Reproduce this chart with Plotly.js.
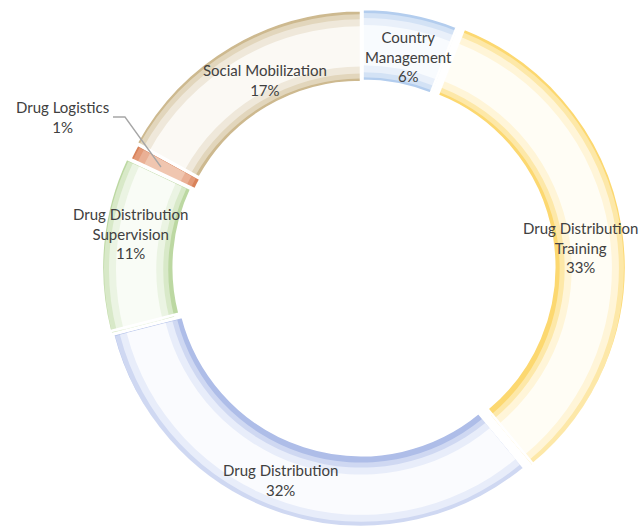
<!DOCTYPE html>
<html>
<head>
<meta charset="utf-8">
<script src="https://cdn.plot.ly/plotly-3.0.1.min.js"></script>
<style>html,body{margin:0;padding:0;background:#fff;}#chart{width:642px;height:532px;}</style>
</head>
<body>
<div id="chart"></div>
<script>
const categories = ["Country Management", "Drug Distribution Training", "Drug Distribution", "Drug Distribution Supervision", "Drug Logistics", "Social Mobilization"];
const labelLines = ["Country<br>Management", "Drug Distribution<br>Training", "Drug Distribution", "Drug Distribution<br>Supervision", "Drug Logistics", "Social Mobilization"];
const values = [6, 33, 32, 11, 1, 17];
const edgeColors = ["#b3cdee", "#fcd870", "#aebde8", "#bcd8a2", "#d9825a", "#cdb98f"];
const midColors  = ["#d3e2f5", "#fde8a8", "#cfd8f2", "#d8e9c8", "#e39a78", "#e2d6bc"];
const lightColors= ["#e9f0fa", "#fff5d8", "#e8edfa", "#ebf4e3", "#eab095", "#efe8da"];
const coreColors = ["#f8fbfe", "#fffdf5", "#fafbfe", "#f9fcf6", "#f0c6b0", "#fbf9f4"];
// slice explosion (pixels) -- style
const pullPx = [3, 8, 3, 4, 0, 2];

// label anchor positions (pixels from top-left) -- layout only
const labelPos = [[408, 56], [580, 247], [280, 480], [130, 233], [62, 117], [265, 80]];

const W = 642, H = 532, cx = 362, cy = 270, R = 258, HOLE = 0.72;
const rIn = R * HOLE;
const layers = [
  {inset: 0, colors: edgeColors},
  {inset: 4, colors: midColors},
  {inset: 9, colors: lightColors},
  {inset: 16, colors: coreColors}
];
function pieTrace(inset, colors, lineW) {
  const ro = R - inset, ri = rIn + inset;
  const pulls = pullPx.map(p => p / ro);
  const maxPull = Math.max(...pulls);
  const rd = ro * (1 + maxPull);
  return {
    type: "pie",
    labels: categories,
    values: values,
    sort: false,
    direction: "clockwise",
    rotation: 0,
    hole: ri / ro,
    pull: pulls,
    domain: {x: [(cx - rd) / W, (cx + rd) / W], y: [(H - cy - rd) / H, (H - cy + rd) / H]},
    marker: {colors: colors, line: {color: "#ffffff", width: lineW}},
    textinfo: "none",
    hoverinfo: "skip",
    showlegend: false
  };
}
const traces = layers.map(l => pieTrace(l.inset, l.colors, 0));
traces.push(pieTrace(0, categories.map(() => "rgba(0,0,0,0)"), 2.5));

const total = values.reduce((a, b) => a + b, 0);
const annotations = categories.map((c, i) => ({
  x: labelPos[i][0] / W, y: 1 - labelPos[i][1] / H,
  xref: "paper", yref: "paper", xanchor: "center", yanchor: "middle",
  text: labelLines[i] + "<br>" + Math.round(values[i] / total * 100) + "%",
  showarrow: false,
  font: {family: "Lato, 'Open Sans', sans-serif", size: 15, color: "#404040"}
}));

const layout = {
  width: W, height: H,
  margin: {l: 0, r: 0, t: 0, b: 0},
  paper_bgcolor: "#ffffff",
  annotations: annotations,
  shapes: [{
    type: "path", xref: "paper", yref: "paper",
    path: "M " + (113 / W) + "," + (1 - 117 / H) + " L " + (125 / W) + "," + (1 - 117 / H) + " L " + (161 / W) + "," + (1 - 167 / H),
    line: {color: "#a6a6a6", width: 1.3}
  }]
};
Plotly.newPlot("chart", traces, layout, {staticPlot: true});
</script>
</body>
</html>
